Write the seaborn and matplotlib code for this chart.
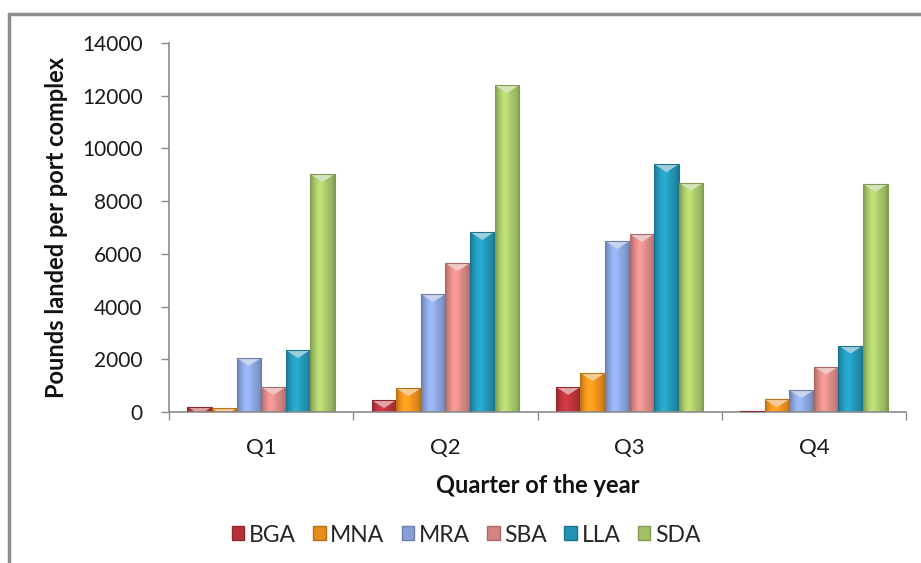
import numpy as np
import pandas as pd
import matplotlib
matplotlib.use("Agg")
import matplotlib.pyplot as plt
import seaborn as sns
from matplotlib.colors import to_rgb
from matplotlib.lines import Line2D
from matplotlib.patches import Polygon, Patch

# Landings per port complex by quarter
quarters = ["Q1", "Q2", "Q3", "Q4"]
ports = ["BGA", "MNA", "MRA", "SBA", "LLA", "SDA"]
bga = [200, 450, 950, 50]
mna = [150, 900, 1480, 480]
mra = [2050, 4480, 6490, 830]
sba = [950, 5650, 6750, 1720]
lla = [2350, 6830, 9400, 2520]
sda = [9030, 12400, 8700, 8650]
yticks = [0, 2000, 4000, 6000, 8000, 10000, 12000, 14000]

colors = ["#B5323A", "#E68D1C", "#879FD6", "#D48482", "#2292B2", "#A2C066"]

df = pd.DataFrame({
    "Quarter": quarters * len(ports),
    "Port": np.repeat(ports, len(quarters)),
    "Pounds": bga + mna + mra + sba + lla + sda,
})

sns.set_theme(style="white")
plt.rcParams["font.family"] = ["Lato", "DejaVu Sans"]

W, H = 921, 563
fig = plt.figure(figsize=(W / 100, H / 100), dpi=100)
ax = fig.add_axes([169 / W, 1 - 412 / H, 737 / W, 369 / H])

sns.barplot(data=df, x="Quarter", y="Pounds", hue="Port", order=quarters,
            hue_order=ports, palette=colors, width=0.8, gap=0, saturation=1,
            errorbar=None, legend=False, ax=ax)

ax.set_xlim(-0.5, 3.5)
ax.set_ylim(0, 14000)


def darker(c, f=0.75):
    r, g, b = to_rgb(c)
    return (r * f, g * f, b * f)


def lighter(c, f=0.45):
    r, g, b = to_rgb(c)
    return (r + (1 - r) * f, g + (1 - g) * f, b + (1 - b) * f)


# Shaded cylinder-like fill and bevelled top on every bar
t = np.linspace(0, 1, 64)
shade = 1 + 0.18 * np.exp(-((t - 0.4) / 0.22) ** 2) - 0.22 * (np.abs(t - 0.5) * 2) ** 4
tri_h = 8 / ax.bbox.height * (14000 - 0)
for i, p in enumerate(list(ax.patches)):
    base = np.array(to_rgb(p.get_facecolor()))
    x0, y0, w, h = p.get_x(), p.get_y(), p.get_width(), p.get_height()
    if h <= 0:
        continue
    img = np.clip(base[None, None, :] * shade[None, :, None], 0, 1)
    im = ax.imshow(img, extent=(x0, x0 + w, y0, y0 + h), aspect="auto",
                   interpolation="bilinear", zorder=2, origin="lower")
    im.set_clip_path(p)
    top = y0 + h
    tri = Polygon([(x0, top), (x0 + w, top), (x0 + w / 2, top - tri_h)],
                  closed=True, facecolor=lighter(base, 0.55), edgecolor="none",
                  zorder=2.5)
    ax.add_patch(tri)
    tri.set_clip_path(p)
    p.set_edgecolor(darker(base, 0.8))
    p.set_linewidth(0.8)
    p.set_facecolor("none")
    p.set_zorder(3)

ax.set_xlim(-0.5, 3.5)
ax.set_ylim(0, 14000)

# Axes styling
for side in ["top", "right"]:
    ax.spines[side].set_visible(False)
for side in ["left", "bottom"]:
    ax.spines[side].set_color("#8C8C8C")
    ax.spines[side].set_linewidth(1.2)

ax.set_yticks(yticks)
ax.set_yticklabels([str(v) for v in yticks])
ax.tick_params(axis="y", direction="out", length=6, width=1, color="#8C8C8C",
               pad=13, labelsize=15, labelcolor="#1A1A1A", left=True)

ax.set_xticks(range(len(quarters)))
ax.set_xticklabels(quarters)
ax.set_xticks(np.arange(-0.5, len(quarters)), minor=True)
ax.tick_params(axis="x", which="major", length=0, pad=19, labelsize=16,
               labelcolor="#1A1A1A")
ax.tick_params(axis="x", which="minor", direction="out", length=6, width=1,
               color="#8C8C8C", bottom=True)

ax.set_xlabel("Quarter of the year", fontsize=17, fontweight="bold",
              color="#111111", va="center")
ax.xaxis.set_label_coords(0.5, -0.2)
ax.set_ylabel("Pounds landed per port complex", fontsize=17, fontweight="bold",
              color="#111111", va="center")
ax.yaxis.set_label_coords(-0.153, 0.5)

handles = [Patch(facecolor=c, edgecolor=darker(c, 0.8)) for c in colors]
fig.legend(handles=handles, labels=ports, loc="center",
           bbox_to_anchor=(466 / W, 1 - 535 / H), ncol=len(ports), frameon=False,
           fontsize=16.5, handlelength=0.55, handleheight=0.55, handletextpad=0.2,
           columnspacing=0.75)

# Chart-area frame
fig.add_artist(Line2D([9 / W, 9 / W], [0, 1 - 14 / H], transform=fig.transFigure,
                      color="#8C8C8C", lw=2.5))
fig.add_artist(Line2D([9 / W, 1], [1 - 14 / H, 1 - 14 / H], transform=fig.transFigure,
                      color="#8C8C8C", lw=2.5))

fig.savefig("out.png", dpi=100)
